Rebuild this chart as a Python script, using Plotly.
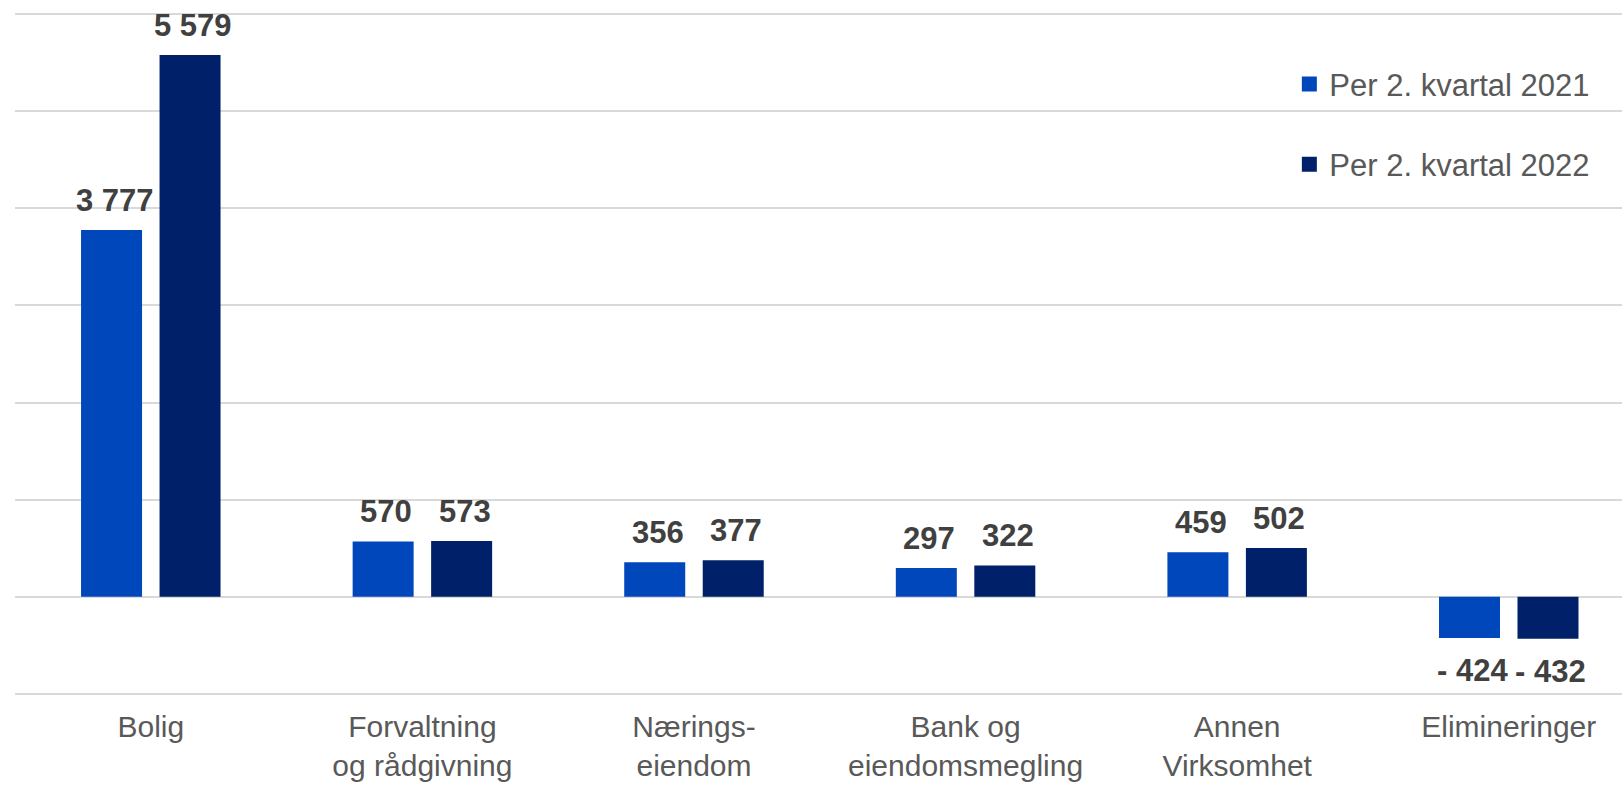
import plotly.graph_objects as go

# Segment results per 2nd quarter (MNOK)
categories = ["Bolig", "Forvaltning<br>og rådgivning", "Nærings-<br>eiendom",
              "Bank og<br>eiendomsmegling", "Annen<br>Virksomhet", "Elimineringer"]
series_names = ["Per 2. kvartal 2021", "Per 2. kvartal 2022"]
values_2021 = [3777, 570, 356, 297, 459, -424]
values_2022 = [5579, 573, 377, 322, 502, -432]

colors = ["#0047BB", "#002169"]
FONT = "Liberation Sans, Arial, sans-serif"
BAR_W = 0.2246
HALF = 0.1445


def fmt(v):
    s = f"{abs(v):,}".replace(",", " ")
    return f"- {s}" if v < 0 else s


fig = go.Figure()
annotations = []
for k, (name, vals) in enumerate(zip(series_names, [values_2021, values_2022])):
    xs = [i + (-HALF if k == 0 else HALF) for i in range(len(categories))]
    fig.add_trace(go.Bar(
        x=xs, y=vals, width=BAR_W, name=name,
        marker=dict(color=colors[k], line=dict(width=0)),
        legendgroup=name, showlegend=False,
    ))
    # legend entry with a larger square swatch
    fig.add_trace(go.Scatter(
        x=[None], y=[None], mode="markers", name=name, legendgroup=name,
        marker=dict(symbol="square", size=15, color=colors[k]),
    ))
    for x, v in zip(xs, vals):
        annotations.append(dict(
            x=x, y=v, xref="x", yref="y", text=fmt(v), showarrow=False,
            yanchor="bottom" if v >= 0 else "top",
            yshift=10 if v >= 0 else -13, xshift=3,
            font=dict(family=FONT, size=31, color="#404040", weight="bold"),
        ))

fig.update_layout(
    width=1622, height=786,
    margin=dict(l=15, r=0, t=9, b=87),
    paper_bgcolor="white", plot_bgcolor="white",
    barmode="overlay",
    showlegend=True,
    legend=dict(
        x=0.793, y=0.93, xanchor="left", yanchor="top",
        font=dict(family=FONT, size=31, color="#595959"),
        traceorder="grouped", tracegroupgap=37,
        bgcolor="rgba(0,0,0,0)",
    ),
    annotations=annotations,
    xaxis=dict(
        range=[-0.5, 5.417], tickmode="array",
        tickvals=list(range(len(categories))), ticktext=categories,
        showgrid=False, zeroline=False, showline=False, ticks="",
        tickfont=dict(family=FONT, size=30, color="#595959"),
        ticklabelstandoff=7, automargin=False,
    ),
    yaxis=dict(
        range=[-1053, 6053], dtick=1000, showticklabels=False,
        showgrid=True, gridcolor="#D9D9D9", gridwidth=2,
        zeroline=False, showline=False, ticks="", automargin=False,
    ),
)

fig.write_html("out.html")
